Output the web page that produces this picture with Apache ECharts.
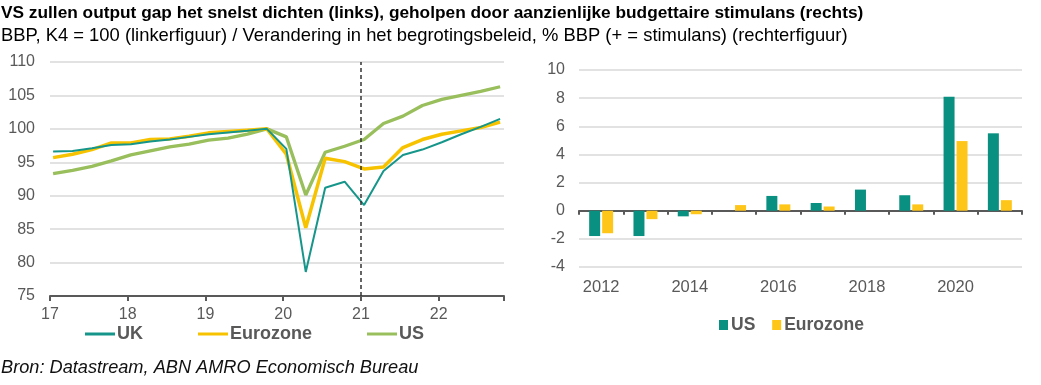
<!DOCTYPE html>
<html>
<head>
<meta charset="utf-8">
<script src="https://cdn.jsdelivr.net/npm/echarts@6/dist/echarts.min.js"></script>
<style>
html,body{margin:0;padding:0;background:#fff;}
#chart{width:1041px;height:385px;}
</style>
</head>
<body>
<div id="chart"></div>
<script>
// ---- Left chart data: GDP, Q4 2019 = 100 ----
const quarterYears = [17,17,17,17,18,18,18,18,19,19,19,19,20,20,20,20,21,21,21,21,22,22,22,22];
const quarterNums  = [1,2,3,4,1,2,3,4,1,2,3,4,1,2,3,4,1,2,3,4,1,2,3,4];
const ukGdp = [96.6,96.7,97.1,97.6,97.7,98.1,98.4,98.8,99.2,99.45,99.7,100,97.0,78.6,91.2,92.1,88.6,93.7,96.1,96.9,98.0,99.2,100.3,101.5];
const ezGdp = [95.7,96.2,96.9,97.9,97.9,98.4,98.5,98.9,99.4,99.6,99.8,100,96.2,85.2,95.6,95.1,94.0,94.3,97.2,98.4,99.2,99.7,100.2,101.0];
const usGdp = [93.3,93.8,94.4,95.2,96.1,96.7,97.3,97.7,98.3,98.6,99.2,100,98.8,90.1,96.5,97.4,98.4,100.8,101.9,103.5,104.4,105.0,105.6,106.3];
const leftTicks = ['17','18','19','20','21','22'];
const forecastStart = 21;

// ---- Right chart data: change in fiscal stance, % GDP ----
const fiscalYears = ['2012','2013','2014','2015','2016','2017','2018','2019','2020','2021'];
const usFiscal = [-1.8,-1.8,-0.4,0,1.05,0.55,1.5,1.1,8.1,5.5];
const ezFiscal = [-1.6,-0.6,-0.25,0.4,0.45,0.3,0,0.45,4.95,0.75];

const C_UK = '#16968A', C_EZ = '#F7C300', C_US = '#99BE5C';
const C_US_BAR = '#0A9080', C_EZ_BAR = '#FFC61A';
const GREY = '#595959';
const FONT = '"Liberation Sans", Arial, sans-serif';

const qx = (i) => quarterYears[i] + (quarterNums[i]-1)/4 + 0.04;
const pts = (arr) => arr.map((v,i) => [qx(i), v]);

const chart = echarts.init(document.getElementById('chart'));
chart.setOption({
  animation:false,
  backgroundColor:'#fff',
  textStyle:{fontFamily:FONT},
  title:[
    {text:'VS zullen output gap het snelst dichten (links), geholpen door aanzienlijke budgettaire stimulans (rechts)',
     left:1, top:5, padding:0,
     textStyle:{fontFamily:FONT,fontSize:17.3,fontWeight:'bold',color:'#000'}},
    {text:'BBP, K4 = 100 (linkerfiguur) / Verandering in het begrotingsbeleid, % BBP (+ = stimulans) (rechterfiguur)',
     left:1, top:27, padding:0,
     textStyle:{fontFamily:FONT,fontSize:18.4,fontWeight:'normal',color:'#000'}},
    {text:'Bron: Datastream, ABN AMRO Economisch Bureau',
     left:1, top:359, padding:0,
     textStyle:{fontFamily:FONT,fontSize:18.2,fontWeight:'normal',fontStyle:'italic',color:'#111'}}
  ],
  legend:[
    {data:['UK','Eurozone','US'], left:85, top:325, padding:0, itemGap:55,
     itemWidth:30, itemHeight:3, icon:'rect',
     textStyle:{fontFamily:FONT,fontSize:18,fontWeight:'bold',color:GREY,padding:[0,0,0,-3]}},
    {data:['US ','Eurozone '], left:719, top:316, padding:0, itemGap:12,
     itemWidth:9, itemHeight:10, icon:'rect',
     textStyle:{fontFamily:FONT,fontSize:17.5,fontWeight:'bold',color:GREY,padding:[0,0,0,-2]}}
  ],
  grid:[
    {left:50, top:62, width:454, height:234},
    {left:579, top:70, width:443, height:197}
  ],
  xAxis:[
    {type:'value', gridIndex:0, min:17, max:22.84, interval:1,
     axisLine:{show:true,lineStyle:{color:GREY,width:2}},
     axisTick:{show:true,length:5,lineStyle:{color:GREY,width:2}},
     axisLabel:{fontFamily:FONT,fontSize:16,color:GREY,margin:11,
       formatter:(v)=>{const i=Math.round(v)-17; return leftTicks[i]||'';}},
     splitLine:{show:false}},
    {type:'category', gridIndex:1, data:fiscalYears,
     axisLine:{show:true,onZero:true,lineStyle:{color:GREY,width:2}},
     axisTick:{show:true,length:4,inside:false,lineStyle:{color:GREY,width:2}},
     axisLabel:{show:false}},
    {type:'category', gridIndex:1, data:fiscalYears, position:'bottom',
     axisLine:{show:false,onZero:false}, axisTick:{show:false},
     axisLabel:{interval:1,fontFamily:FONT,fontSize:16.5,color:GREY,margin:12}}
  ],
  yAxis:[
    {type:'value', gridIndex:0, min:75, max:110, interval:5,
     axisLine:{show:false}, axisTick:{show:false},
     axisLabel:{fontFamily:FONT,fontSize:16,color:GREY,margin:15},
     splitLine:{lineStyle:{color:'#D9D9D9',width:1.5}}},
    {type:'value', gridIndex:1, min:-4, max:10, interval:2,
     axisLine:{show:false}, axisTick:{show:false},
     axisLabel:{fontFamily:FONT,fontSize:16,color:GREY,margin:14},
     splitLine:{lineStyle:{color:'#D9D9D9',width:1.5}}}
  ],
  series:[
    {name:'US', type:'line', xAxisIndex:0, yAxisIndex:0, data:pts(usGdp),
     showSymbol:false, lineStyle:{color:C_US,width:3.3}, itemStyle:{color:C_US}, z:2},
    {name:'Eurozone', type:'line', xAxisIndex:0, yAxisIndex:0, data:pts(ezGdp),
     showSymbol:false, lineStyle:{color:C_EZ,width:3.5}, itemStyle:{color:C_EZ}, z:3},
    {name:'UK', type:'line', xAxisIndex:0, yAxisIndex:0, data:pts(ukGdp),
     showSymbol:false, lineStyle:{color:C_UK,width:2}, itemStyle:{color:C_UK}, z:4,
     markLine:{silent:true, symbol:'none', label:{show:false},
       lineStyle:{color:'#333',type:[4,3],width:1.5},
       data:[{xAxis:forecastStart}]}},
    {name:'US ', type:'bar', xAxisIndex:1, yAxisIndex:1, data:usFiscal,
     itemStyle:{color:C_US_BAR}, barWidth:11, barGap:'18%'},
    {name:'Eurozone ', type:'bar', xAxisIndex:1, yAxisIndex:1, data:ezFiscal,
     itemStyle:{color:C_EZ_BAR}, barWidth:11, barGap:'18%'}
  ]
});
</script>
</body>
</html>
